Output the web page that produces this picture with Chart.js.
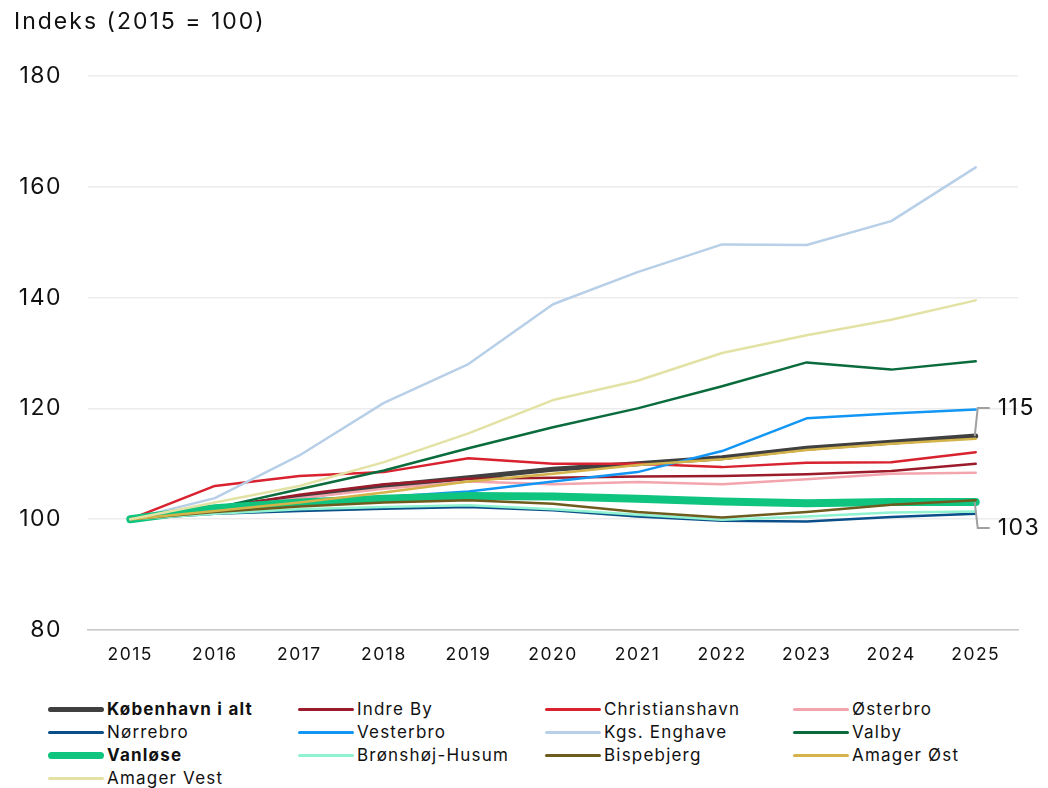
<!DOCTYPE html>
<html>
<head>
<meta charset="utf-8">
<script src="https://cdn.jsdelivr.net/npm/chart.js@4"></script>
<style>
	body { margin: 0; background: #fff; font-family: Inter, "Noto Sans", sans-serif; color: #111; }
	#wrap { position: relative; width: 1048px; height: 788px; }
	#chartBox { position: absolute; left: 0; top: 0; width: 1048px; height: 690px; }
	#title { position: absolute; left: 14px; top: 7px; font-size: 23px; letter-spacing: 2px; }
	#legend { position: absolute; left: 0; top: 698px; width: 1048px; }
	.item { position: absolute; height: 23px; line-height: 23px; font-size: 17px; letter-spacing: 1.2px; white-space: nowrap; }
	.swatch { position: absolute; left: 0; top: 50%; width: 56px; border-radius: 4px; }
	.item span { position: absolute; left: 59px; }
</style>
</head>
<body>
<div id="wrap">
	<div id="chartBox"><canvas id="indexChart"></canvas></div>
	<div id="title">Indeks (2015 = 100)</div>
	<div id="legend"></div>
</div>
<script>
// Årstal og y-akse
const years = ["2015", "2016", "2017", "2018", "2019", "2020", "2021", "2022", "2023", "2024", "2025"];
const yTicks = [80, 100, 120, 140, 160, 180];

// Indeks pr. bydel
const kbhIAlt = [100, 102, 104, 106, 107.5, 109, 110, 111.1, 112.8, 113.9, 115];
const indreBy = [100, 102, 104.4, 106.3, 107.3, 107.5, 107.7, 107.8, 108.1, 108.7, 110];
const christianshavn = [100, 106, 107.8, 108.5, 111, 110, 110, 109.4, 110.2, 110.3, 112.1];
const oesterbro = [100, 101.8, 103.8, 105.5, 106.8, 106.3, 106.7, 106.3, 107.2, 108.2, 108.4];
const noerrebro = [100, 101, 101.5, 101.9, 102.2, 101.6, 100.5, 99.7, 99.6, 100.4, 101];
const vesterbro = [100, 101.5, 102.5, 104, 105, 106.8, 108.5, 112.3, 118.2, 119.1, 119.8];
const kgsEnghave = [100, 103.8, 111.5, 121, 128, 138.8, 144.6, 149.6, 149.5, 153.8, 163.5];
const valby = [100, 102, 105.4, 108.8, 112.8, 116.6, 120, 124, 128.3, 127, 128.5];
const vanloese = [100, 102, 103, 103.7, 104.2, 104.1, 103.7, 103.2, 102.9, 103.1, 103.1];
const broenshoej = [100, 101, 101.8, 102.2, 102.5, 101.8, 100.8, 99.9, 100.5, 101.2, 101.4];
const bispebjerg = [100, 101.3, 102.3, 103, 103.4, 102.8, 101.3, 100.3, 101.3, 102.6, 103.4];
const amagerOest = [100, 101.5, 103, 104.8, 106.8, 108.2, 109.8, 110.8, 112.5, 113.6, 114.5];
const amagerVest = [100, 103, 106, 110.3, 115.5, 121.5, 125, 130, 133.2, 136, 139.5];

const series = [
	{ label: "København i alt", data: kbhIAlt, color: "#404040", width: 5, bold: true },
	{ label: "Indre By", data: indreBy, color: "#9b1b2a", width: 2.5 },
	{ label: "Christianshavn", data: christianshavn, color: "#d9222f", width: 2.5 },
	{ label: "Østerbro", data: oesterbro, color: "#f2a5ad", width: 2.5 },
	{ label: "Nørrebro", data: noerrebro, color: "#0b4f8a", width: 2.5 },
	{ label: "Vesterbro", data: vesterbro, color: "#1296f5", width: 2.5 },
	{ label: "Kgs. Enghave", data: kgsEnghave, color: "#b8cfe8", width: 2.5 },
	{ label: "Valby", data: valby, color: "#0a6b3d", width: 2.5 },
	{ label: "Vanløse", data: vanloese, color: "#0fc47f", width: 8, bold: true },
	{ label: "Brønshøj-Husum", data: broenshoej, color: "#8ff2d0", width: 2.5 },
	{ label: "Bispebjerg", data: bispebjerg, color: "#6e5c1e", width: 2.5 },
	{ label: "Amager Øst", data: amagerOest, color: "#d4b44a", width: 2.5 },
	{ label: "Amager Vest", data: amagerVest, color: "#e3e2a5", width: 2.5 },
];

// Slutværdier med forbindelseslinje (København i alt og Vanløse)
const endLabels = [
	{ data: kbhIAlt, dy: -28 },
	{ data: vanloese, dy: 26 },
];

// Lidt bredere tekst på canvas, som i originalen
const spacingPlugin = {
	id: "spacing",
	beforeLayout(chart) { chart.ctx.letterSpacing = "1.5px"; },
	beforeDraw(chart) { chart.ctx.letterSpacing = "1.5px"; },
};

const endLabelPlugin = {
	id: "endLabels",
	afterDatasetsDraw(chart) {
		const { ctx, scales } = chart;
		const last = years.length - 1;
		ctx.save();
		endLabels.forEach((l) => {
			const x = scales.x.getPixelForValue(last);
			const y = scales.y.getPixelForValue(l.data[last]);
			ctx.strokeStyle = "#a0a0a0";
			ctx.lineWidth = 2;
			ctx.beginPath();
			ctx.moveTo(x - 1, y);
			ctx.lineTo(x + 2, y + l.dy);
			ctx.lineTo(x + 14, y + l.dy);
			ctx.stroke();
			ctx.fillStyle = "#111";
			ctx.font = "23px Inter, 'Noto Sans', sans-serif";
			ctx.textBaseline = "middle";
			ctx.fillText(Math.round(l.data[last]), x + 22, y + l.dy);
		});
		ctx.restore();
	},
};

const ctx = document.getElementById("indexChart").getContext("2d");
new Chart(ctx, {
	type: "line",
	data: {
		labels: years,
		datasets: series.map((s, i) => ({
			label: s.label,
			data: s.data,
			borderColor: s.color,
			backgroundColor: s.color,
			borderWidth: s.width,
			pointRadius: 0,
			tension: 0,
			fill: false,
			borderCapStyle: "round",
			borderJoinStyle: "round",
			order: series.length - i,
		})),
	},
	options: {
		responsive: true,
		maintainAspectRatio: false,
		animation: false,
		layout: { padding: { top: 76, right: 30, left: 0, bottom: 0 } },
		scales: {
			x: {
				offset: true,
				grid: { display: false, drawTicks: false },
				border: { display: true, color: "#c8c8c8", width: 1.5 },
				ticks: { color: "#111", font: { size: 17.5, family: "Inter, 'Noto Sans', sans-serif" }, padding: 14 },
				afterFit: (scale) => { scale.height = 60; },
			},
			y: {
				min: 80,
				max: 180,
				afterBuildTicks: (scale) => { scale.ticks = yTicks.map((v) => ({ value: v })); },
				grid: { color: "#ececec", lineWidth: 1.5, drawTicks: false },
				border: { display: false },
				ticks: { color: "#111", font: { size: 23, family: "Inter, 'Noto Sans', sans-serif" }, padding: 26 },
				afterFit: (scale) => { scale.width = 88; },
			},
		},
		plugins: {
			legend: { display: false },
			tooltip: { enabled: false },
		},
	},
	plugins: [spacingPlugin, endLabelPlugin],
});

// Legende i fire kolonner
const legendEl = document.getElementById("legend");
const colX = [48, 298, 545, 793];
series.forEach((s, i) => {
	const item = document.createElement("div");
	item.className = "item";
	item.style.left = colX[i % 4] + "px";
	item.style.top = Math.floor(i / 4) * 23 + "px";
	const sw = document.createElement("div");
	sw.className = "swatch";
	sw.style.background = s.color;
	sw.style.height = Math.min(s.width, 7) + "px";
	sw.style.marginTop = -Math.min(s.width, 7) / 2 + "px";
	const txt = document.createElement("span");
	txt.textContent = s.label;
	if (s.bold) txt.style.fontWeight = "bold";
	item.appendChild(sw);
	item.appendChild(txt);
	legendEl.appendChild(item);
});
</script>
</body>
</html>
